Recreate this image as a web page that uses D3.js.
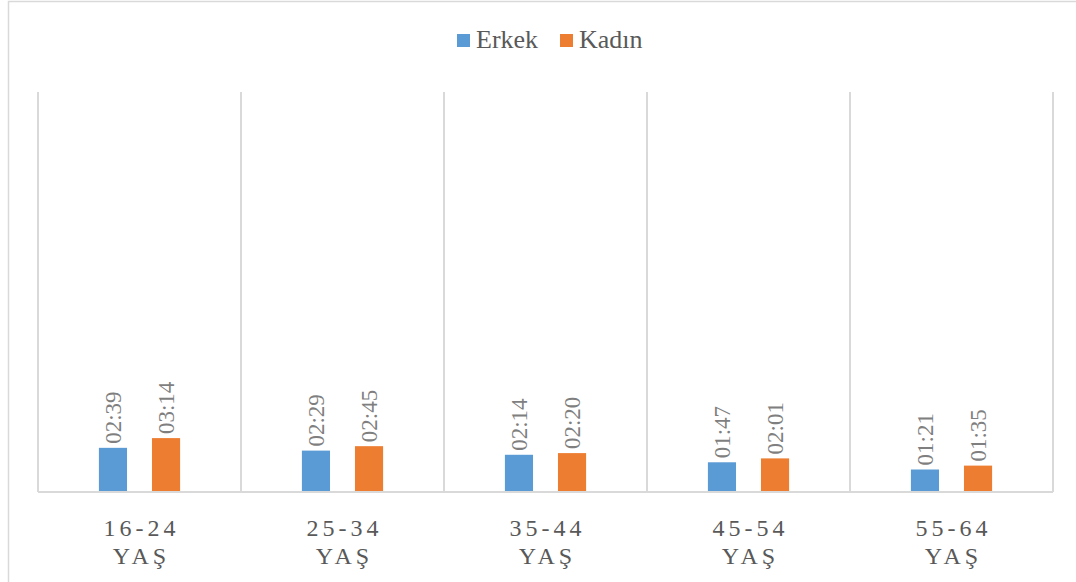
<!DOCTYPE html>
<html>
<head>
<meta charset="utf-8">
<script src="https://cdnjs.cloudflare.com/ajax/libs/d3/7.8.5/d3.min.js"></script>
<style>
  body { margin: 0; background: #fff; }
</style>
</head>
<body>
<div id="chart"></div>
<script>
// data (minutes shown as hh:mm)
const categories = ["16-24 YAŞ", "25-34 YAŞ", "35-44 YAŞ", "45-54 YAŞ", "55-64 YAŞ"];
const seriesNames = ["Erkek", "Kadın"];
const erkek = ["02:39", "02:29", "02:14", "01:47", "01:21"];
const kadin = ["03:14", "02:45", "02:20", "02:01", "01:35"];
const colors = ["#5b9bd5", "#ed7d31"];

const serif = "'Times New Roman', Times, 'Liberation Serif', 'DejaVu Serif', 'Noto Serif', serif";

drawChart()
function drawChart(){
  const width = 1076, height = 582;
  const plot = {left: 38, right: 1053, top: 92, bottom: 492};

  const toMin = s => { const p = s.split(":"); return +p[0] * 60 + +p[1]; };

  const svg = d3.select("#chart")
    .append("svg")
      .attr("width", width)
      .attr("height", height)
      .style("font-family", serif)
      .style("display", "block");

  // outer chart frame (partly outside the picture)
  svg.append("rect")
    .attr("x", 8.5).attr("y", 1.5)
    .attr("width", 1100).attr("height", 700)
    .attr("fill", "none")
    .attr("stroke", "#d9d9d9")
    .attr("stroke-width", 1.5);

  const x = d3.scaleBand()
    .domain(categories)
    .range([plot.left, plot.right]);

  // a day on the value axis
  const y = d3.scaleLinear()
    .domain([0, 1440])
    .range([plot.bottom, plot.top]);

  const xSub = d3.scaleBand()
    .domain(seriesNames)
    .range([x.bandwidth() * 0.3, x.bandwidth() * 0.7])
    .paddingInner(0.47);

  // vertical gridlines between categories
  const edges = categories.map(c => x(c)).concat([plot.right]);
  svg.selectAll("line.grid")
    .data(edges)
    .join("line")
      .attr("class", "grid")
      .attr("x1", d => d).attr("x2", d => d)
      .attr("y1", plot.top).attr("y2", plot.bottom)
      .attr("stroke", "#d9d9d9")
      .attr("stroke-width", 2);

  const rows = categories.map((c, i) => ({cat: c, vals: [erkek[i], kadin[i]]}));

  const groups = svg.selectAll("g.cat")
    .data(rows)
    .join("g")
      .attr("class", "cat")
      .attr("transform", d => `translate(${x(d.cat)},0)`);

  groups.selectAll("rect")
    .data(d => d.vals.map((v, j) => ({name: seriesNames[j], v: v, c: colors[j]})))
    .join("rect")
      .attr("x", d => xSub(d.name))
      .attr("width", xSub.bandwidth())
      .attr("y", d => y(toMin(d.v)))
      .attr("height", d => plot.bottom - y(toMin(d.v)))
      .attr("fill", d => d.c);

  // rotated value labels
  groups.selectAll("text.val")
    .data(d => d.vals.map((v, j) => ({name: seriesNames[j], v: v})))
    .join("text")
      .attr("class", "val")
      .attr("transform", d => `translate(${xSub(d.name) + xSub.bandwidth() / 2 + 8},${y(toMin(d.v)) - 4}) rotate(-90)`)
      .attr("fill", "#7f7f7f")
      .style("font-size", "23px")
      .text(d => d.v);

  // baseline
  svg.append("line")
    .attr("x1", plot.left).attr("x2", plot.right)
    .attr("y1", plot.bottom).attr("y2", plot.bottom)
    .attr("stroke", "#d9d9d9")
    .attr("stroke-width", 2);

  // category labels on two lines
  const lab = svg.selectAll("text.cat")
    .data(categories)
    .join("text")
      .attr("class", "cat")
      .attr("text-anchor", "middle")
      .attr("fill", "#595959")
      .style("font-size", "24px")
      .style("letter-spacing", "4px");
  lab.append("tspan")
    .attr("x", d => x(d) + x.bandwidth() / 2 + 2)
    .attr("y", 536)
    .text(d => d.split(" ")[0]);
  lab.append("tspan")
    .attr("x", d => x(d) + x.bandwidth() / 2 + 2)
    .attr("y", 564)
    .text(d => d.split(" ")[1]);

  // legend
  const legendX = [457, 560];
  const legend = svg.selectAll("g.legend")
    .data(seriesNames)
    .join("g")
      .attr("class", "legend")
      .attr("transform", (d, i) => `translate(${legendX[i]},34)`);
  legend.append("rect")
    .attr("width", 13).attr("height", 13)
    .attr("fill", (d, i) => colors[i]);
  legend.append("text")
    .attr("x", 19).attr("y", 14)
    .attr("fill", "#595959")
    .style("font-size", "26px")
    .text(d => d);
}
</script>
</body>
</html>
